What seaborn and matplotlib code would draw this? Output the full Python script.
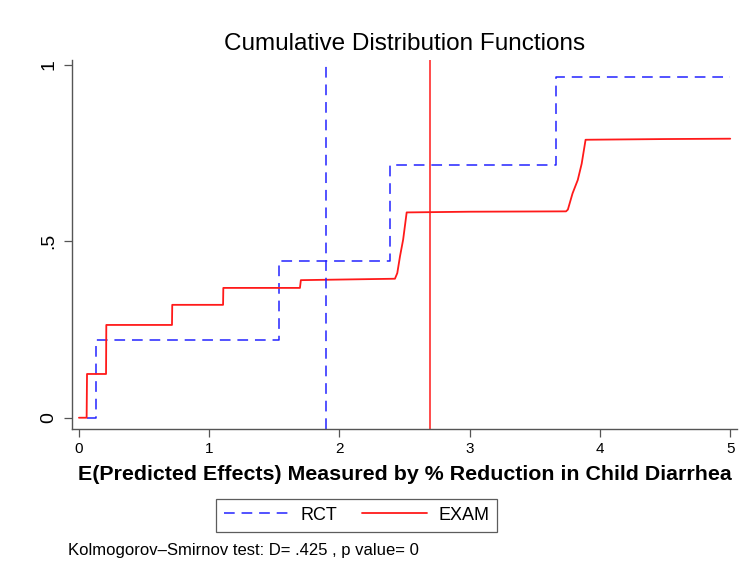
import numpy as np
import pandas as pd
import matplotlib
matplotlib.use("Agg")
import matplotlib.pyplot as plt
import seaborn as sns
from matplotlib.lines import Line2D

# Step points (x = predicted effect, y = cumulative share)
rct_x = [0.064, 0.133, 0.133, 1.535, 1.535, 2.389, 2.389, 3.663, 3.663, 5.0]
rct_y = [0.0, 0.0, 0.220, 0.220, 0.445, 0.445, 0.716, 0.716, 0.967, 0.967]

exam_x = [0.002, 0.061, 0.064, 0.210, 0.212, 0.716, 0.718, 1.108, 1.110, 1.698,
          1.705, 2.427, 2.445, 2.466, 2.490, 2.517, 3.0, 3.740, 3.754, 3.790,
          3.830, 3.860, 3.890, 4.5, 5.0]
exam_y = [0.0, 0.0, 0.124, 0.124, 0.263, 0.263, 0.320, 0.320, 0.368, 0.368,
          0.390, 0.394, 0.410, 0.458, 0.505, 0.582, 0.584, 0.585, 0.590, 0.636,
          0.674, 0.720, 0.788, 0.790, 0.791]

rct_mean = 1.898
exam_mean = 2.698

ks_text = "Kolmogorov\u2013Smirnov test: D= .425 , p value= 0"

sns.set_style("white")
plt.rcParams['font.family'] = ['Liberation Sans', 'DejaVu Sans']
plt.rcParams['text.color'] = 'black'
plt.rcParams['axes.labelcolor'] = 'black'
plt.rcParams['xtick.color'] = 'black'
plt.rcParams['ytick.color'] = 'black'

rct_df = pd.DataFrame({"x": rct_x, "y": rct_y})
exam_df = pd.DataFrame({"x": exam_x, "y": exam_y})

fig = plt.figure(figsize=(7.48, 5.75), dpi=100)
ax = fig.add_axes([0.0963, 0.2539, 0.889, 0.6417])

blue = "#2323ff"
red = "#ff1a1a"

sns.lineplot(data=rct_df, x="x", y="y", ax=ax, sort=False, estimator=None,
             color=blue, lw=1.1, dashes=False, linestyle=(0, (7, 4.5)))
sns.lineplot(data=exam_df, x="x", y="y", ax=ax, sort=False, estimator=None,
             color=red, lw=1.3)

ax.axvline(rct_mean, color=blue, lw=1.1, linestyle=(0, (7, 4.5)))
ax.axvline(exam_mean, color=red, lw=1.1)

ax.set_xlim(-0.051, 5.052)
ax.set_ylim(-0.032, 1.014)
ax.set_xticks([0, 1, 2, 3, 4, 5])
ax.set_xticklabels(["0", "1", "2", "3", "4", "5"])
ax.set_yticks([0, 0.5, 1])
ax.set_yticklabels(["0", ".5", "1"], rotation=90, va="center")

for s in ["top", "right"]:
    ax.spines[s].set_visible(False)
for s in ["left", "bottom"]:
    ax.spines[s].set_color("#555555")
    ax.spines[s].set_linewidth(1.0)
ax.tick_params(axis="both", direction="out", length=5.5, width=0.9,
               color="#555555", pad=4, left=True, bottom=True)
ax.tick_params(axis="x", labelsize=11)
ax.tick_params(axis="y", labelsize=14, pad=5)

ax.set_title("Cumulative Distribution Functions", fontsize=17.5, pad=7)
ax.set_xlabel("E(Predicted Effects) Measured by % Reduction in Child Diarrhea",
              fontsize=15.4, fontweight="bold", labelpad=6)
ax.set_ylabel("")

handles = [Line2D([], [], color=blue, lw=1.1, linestyle=(0, (7, 4.5))),
           Line2D([], [], color=red, lw=1.3)]
leg = fig.legend(handles, ["RCT", "EXAM"], loc="center",
                 bbox_to_anchor=(0.477, 0.104), ncol=2, fontsize=13,
                 frameon=True, fancybox=False, handlelength=3.6,
                 columnspacing=1.4, borderpad=0.45, handletextpad=0.6)
leg.get_frame().set_edgecolor("#333333")
leg.get_frame().set_linewidth(0.9)

fig.text(0.091, 0.043, ks_text, fontsize=12, va="center", ha="left")

fig.savefig("out.png", dpi=100)
